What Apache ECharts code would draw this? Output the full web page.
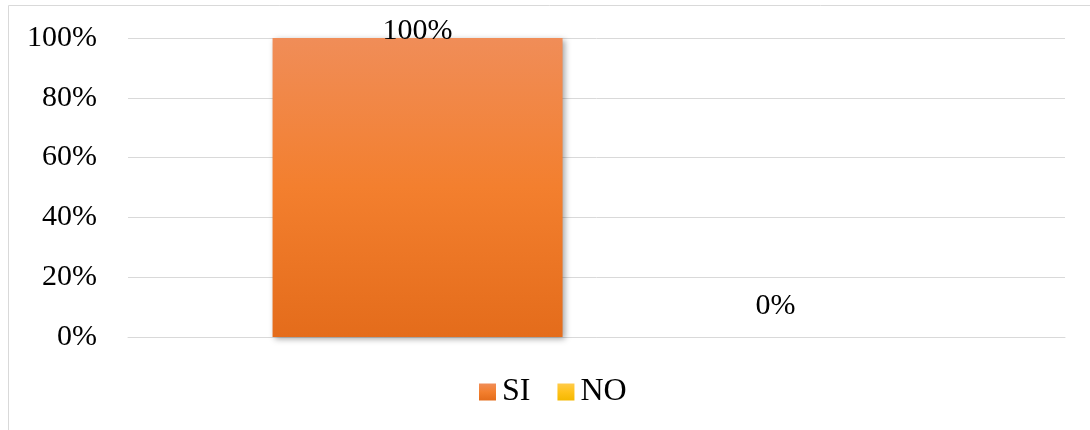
<!DOCTYPE html>
<html>
<head>
<meta charset="utf-8">
<script src="https://cdn.jsdelivr.net/npm/echarts@6/dist/echarts.min.js"></script>
<style>
html,body{margin:0;padding:0;background:#fff;}
#chart{width:1090px;height:430px;}
</style>
</head>
<body>
<div id="chart"></div>
<script>
const categories = [''];
const seriesNames = ['SI', 'NO'];
const siValues = [100];
const noValues = [0];
const yTicks = [0, 20, 40, 60, 80, 100];

const FONT = '"Liberation Serif", "Times New Roman", serif';
const chart = echarts.init(document.getElementById('chart'));

function grad(top, mid, bottom) {
  return new echarts.graphic.LinearGradient(0, 0, 0, 1, [
    {offset: 0, color: top}, {offset: 0.5, color: mid}, {offset: 1, color: bottom}
  ]);
}
const siColor = grad('#F08D58', '#F37F2E', '#E46C1B');
const noColor = grad('#FFCB4A', '#FFC21A', '#F4B800');

chart.setOption({
  animation: false,
  graphic: [{
    type: 'rect', silent: true,
    shape: {x: 8.5, y: 5.5, width: 1100, height: 440},
    style: {fill: 'none', stroke: '#d9d9d9', lineWidth: 1}
  }],
  grid: {left: 128, right: 25, top: 38, bottom: 93},
  legend: {
    data: seriesNames,
    top: 376,
    left: 479,
    padding: 0,
    itemWidth: 17, itemHeight: 17, itemGap: 27,
    textStyle: {fontFamily: FONT, fontSize: 32, color: '#000', padding: [0,0,0,1]},
    icon: 'rect'
  },
  xAxis: {
    type: 'category', data: categories,
    axisLine: {lineStyle: {color: '#d9d9d9', width: 1}},
    axisTick: {show: false}, axisLabel: {show: false}
  },
  yAxis: {
    type: 'value', min: yTicks[0], max: yTicks[yTicks.length-1], interval: 20,
    axisLine: {show: false}, axisTick: {show: false},
    splitLine: {lineStyle: {color: '#d9d9d9', width: 1}},
    axisLabel: {formatter: '{value}%', fontFamily: FONT, fontSize: 30, color: '#000', margin: 31}
  },
  series: [{
    name: seriesNames[0], type: 'bar', barWidth: 290, barGap: '23.4%',
    itemStyle: {color: siColor, shadowBlur: 6, shadowOffsetX: 2, shadowOffsetY: 2, shadowColor: 'rgba(0,0,0,0.35)'},
    label: {show: true, position: 'top', distance: -8, formatter: '{c}%', fontFamily: FONT, fontSize: 30, color: '#000'},
    data: siValues
  }, {
    name: seriesNames[1], type: 'bar', barWidth: 290,
    itemStyle: {color: noColor},
    label: {show: true, position: 'top', distance: 16, formatter: '{c}%', fontFamily: FONT, fontSize: 30, color: '#000'},
    data: noValues
  }]
});
</script>
</body>
</html>
